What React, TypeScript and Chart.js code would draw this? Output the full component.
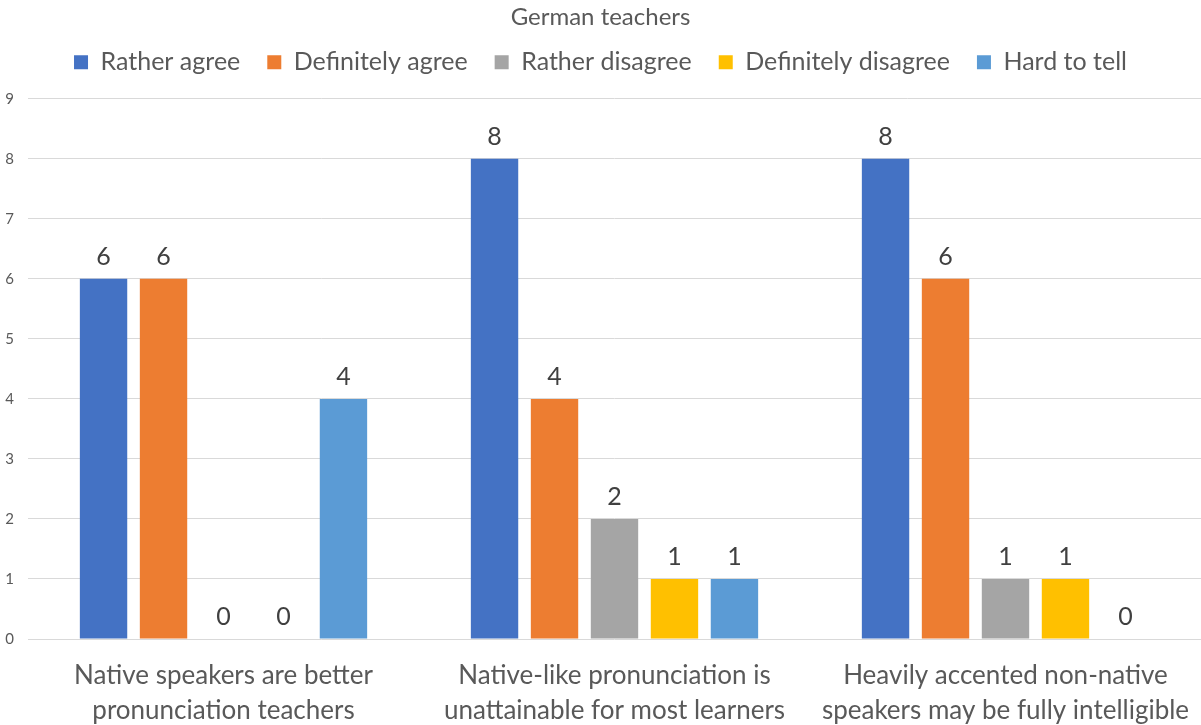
import React, { useEffect, useRef } from "react";
import { Chart, registerables } from "chart.js";

Chart.register(...registerables);

const titleText = "German teachers";
const categories: string[][] = [
  ["Native speakers are better", "pronunciation teachers"],
  ["Native-like pronunciation is", "unattainable for most learners"],
  ["Heavily accented non-native", "speakers may be fully intelligible"],
];
const seriesNames = ["Rather agree", "Definitely agree", "Rather disagree", "Definitely disagree", "Hard to tell"];
const seriesColors = ["#4472C4", "#ED7D31", "#A5A5A5", "#FFC000", "#5B9BD5"];
const ratherAgree = [6, 8, 8];
const definitelyAgree = [6, 4, 6];
const ratherDisagree = [0, 2, 1];
const definitelyDisagree = [0, 1, 1];
const hardToTell = [4, 1, 0];
const yTicks = [0, 1, 2, 3, 4, 5, 6, 7, 8, 9];

const FONT = "Lato, 'Open Sans', sans-serif";

const dataLabels = {
  id: "dataLabels",
  afterDatasetsDraw(chart: any) {
    const ctx = chart.ctx;
    ctx.save();
    ctx.font = `25px ${FONT}`;
    ctx.fillStyle = "#404040";
    ctx.textAlign = "center";
    ctx.textBaseline = "middle";
    chart.data.datasets.forEach((ds: any, i: number) => {
      const meta = chart.getDatasetMeta(i);
      meta.data.forEach((el: any, j: number) => {
        ctx.fillText(String(ds.data[j]), el.x, el.y - 22);
      });
    });
    ctx.restore();
  },
};

const legendSpace = {
  id: "legendSpace",
  beforeInit(chart: any) {
    const legend = chart.legend;
    if (!legend) return;
    const orig = legend.fit;
    legend.fit = function () {
      orig.call(this);
      this.height += 14;
    };
  },
};

export default function App() {
  const ref = useRef<HTMLCanvasElement>(null);
  useEffect(() => {
    if (!ref.current) return;
    const all = [ratherAgree, definitelyAgree, ratherDisagree, definitelyDisagree, hardToTell];
    const chart = new Chart(ref.current, {
      type: "bar",
      data: {
        labels: categories,
        datasets: all.map((d, i) => ({
          label: seriesNames[i],
          data: d,
          backgroundColor: seriesColors[i],
          borderWidth: 0,
          categoryPercentage: 0.767,
          barPercentage: 0.79,
        })),
      },
      options: {
        animation: false,
        responsive: true,
        maintainAspectRatio: false,
        layout: { padding: { top: 0, left: 0, right: 0, bottom: 0 } },
        plugins: {
          tooltip: { enabled: false },
          title: {
            display: true,
            text: titleText,
            color: "#595959",
            font: { family: FONT, size: 24, weight: "normal" },
            padding: { top: 3, bottom: -9 },
          },
          legend: {
            display: true,
            position: "top",
            labels: {
              color: "#595959",
              font: { family: FONT, size: 25 },
              boxWidth: 14,
              boxHeight: 14,
              padding: 27,
            },
          },
        },
        scales: {
          x: {
            grid: { display: false, drawTicks: false },
            border: { display: false },
            afterFit(scale: any) {
              scale.height = 86;
              scale.paddingLeft = 0;
              scale.paddingRight = 0;
            },
            ticks: {
              color: "#595959",
              font: { family: FONT, size: 26, lineHeight: "35px" },
              padding: 19,
              maxRotation: 0,
              autoSkip: false,
            },
          },
          y: {
            min: 0,
            max: 9,
            afterBuildTicks(scale: any) {
              scale.ticks = yTicks.map((v) => ({ value: v }));
            },
            afterFit(scale: any) {
              scale.width = 28;
            },
            grid: { color: "#d9d9d9", lineWidth: 1, drawTicks: false },
            border: { display: false },
            ticks: {
              color: "#595959",
              font: { family: FONT, size: 15 },
              padding: 14,
            },
          },
        },
      },
      plugins: [dataLabels, legendSpace],
    } as any);
    return () => chart.destroy();
  }, []);
  return (
    <div style={{ position: "absolute", left: 0, top: 0, width: 1201, height: 725 }}>
      <canvas ref={ref} />
    </div>
  );
}
